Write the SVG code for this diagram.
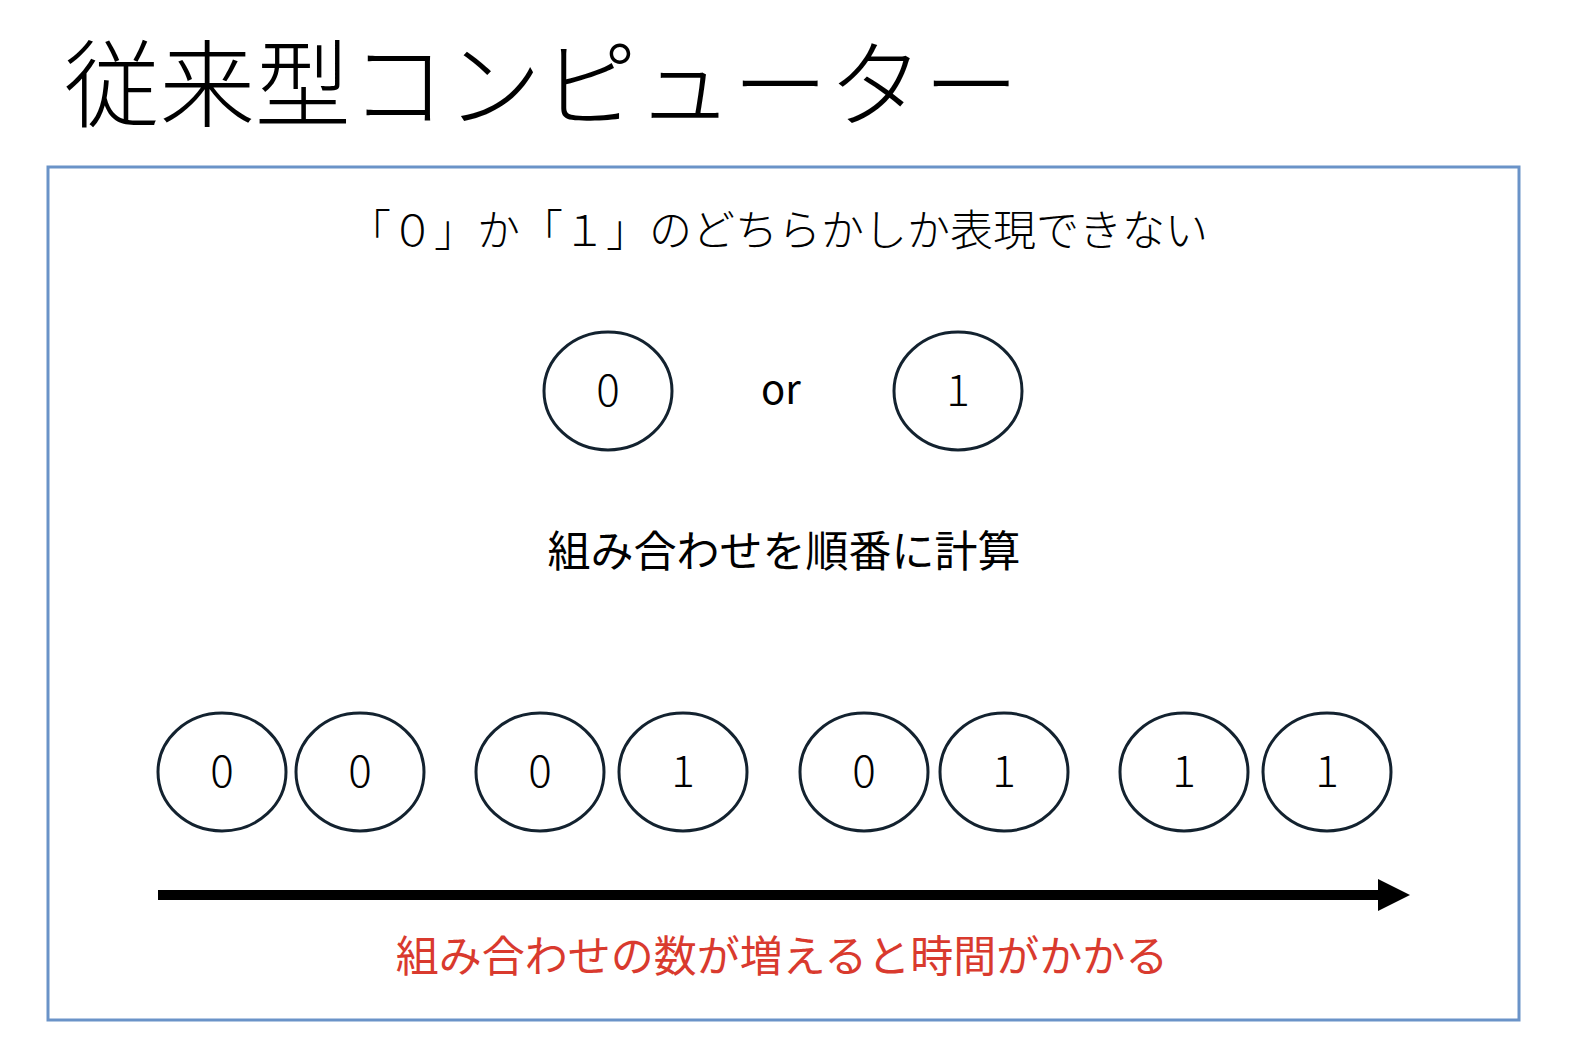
<svg xmlns="http://www.w3.org/2000/svg" width="1572" height="1062" viewBox="0 0 1572 1062">
<style>
.t{font-family:"Noto Sans CJK JP","Noto Sans",sans-serif;fill:#000}
.bit{fill:#fff;stroke:#13222f;stroke-width:3}
.d{font-family:"Noto Sans CJK JP","Noto Sans",sans-serif;font-size:44px;font-weight:300;text-anchor:middle;fill:#000}
</style>
<rect width="1572" height="1062" fill="#fff"/>
<g id="title"><text class="t" x="64" y="120" font-size="95.5" font-weight="300">従来型コンピューター</text></g>
<g id="frame"><rect x="48" y="167" width="1471" height="853" fill="#fff" stroke="#6a93c8" stroke-width="3"/></g>
<g id="subtitle"><text class="t" x="778" y="246" font-size="43" font-weight="300" text-anchor="middle">「０」か「１」のどちらかしか表現できない</text></g>
<g id="bit0"><ellipse class="bit" cx="608" cy="391" rx="64" ry="59"/><text class="d" x="608" y="406">0</text></g>
<g id="or"><text class="t" x="781" y="404" font-size="40" text-anchor="middle">or</text></g>
<g id="bit1"><ellipse class="bit" cx="958" cy="391" rx="64" ry="59"/><text class="d" x="958" y="406">1</text></g>
<g id="calc"><text class="t" x="784" y="567" font-size="43" text-anchor="middle">組み合わせを順番に計算</text></g>
<g id="pair00">
<ellipse class="bit" cx="222" cy="772" rx="64" ry="59"/><text class="d" x="222" y="787">0</text>
<ellipse class="bit" cx="360" cy="772" rx="64" ry="59"/><text class="d" x="360" y="787">0</text>
</g>
<g id="pair01">
<ellipse class="bit" cx="540" cy="772" rx="64" ry="59"/><text class="d" x="540" y="787">0</text>
<ellipse class="bit" cx="683" cy="772" rx="64" ry="59"/><text class="d" x="683" y="787">1</text>
</g>
<g id="pair01b">
<ellipse class="bit" cx="864" cy="772" rx="64" ry="59"/><text class="d" x="864" y="787">0</text>
<ellipse class="bit" cx="1004" cy="772" rx="64" ry="59"/><text class="d" x="1004" y="787">1</text>
</g>
<g id="pair11">
<ellipse class="bit" cx="1184" cy="772" rx="64" ry="59"/><text class="d" x="1184" y="787">1</text>
<ellipse class="bit" cx="1327" cy="772" rx="64" ry="59"/><text class="d" x="1327" y="787">1</text>
</g>
<g id="connectors">
<line x1="158" y1="895" x2="1378" y2="895" stroke="#000" stroke-width="10"/>
<path d="M1378,879 L1410,895 L1378,911 z" fill="#000"/>
</g>
<g id="note"><text class="t" x="782" y="972" font-size="43" text-anchor="middle" style="fill:#d93a2e">組み合わせの数が増えると時間がかかる</text></g>
</svg>
